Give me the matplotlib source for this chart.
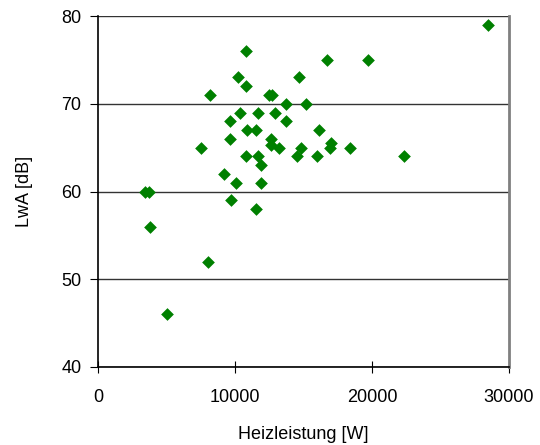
import numpy as np
import matplotlib.pyplot as plt

plt.rcParams['font.family'] = ['Liberation Sans', 'DejaVu Sans']

# Heizleistung [W] und Schallleistung LwA [dB]
heizleistung = [10800, 10250, 10800, 14700, 8150, 12500, 12700, 13700, 15200,
                10400, 11700, 12900, 9600, 13700, 10900, 11500, 9600, 12600,
                12600, 13200, 7500, 14800, 10800, 11700, 14500, 11900, 9200,
                10100, 11900, 3400, 3700, 9700, 11500, 3800, 8000, 5000,
                28500, 16700, 19700, 16100, 16000, 17000, 16900, 18400, 22300]
lwa = [76, 73, 72, 73, 71, 71, 71, 70, 70,
       69, 69, 69, 68, 68, 67, 67, 66, 66,
       65.3, 65, 65, 65, 64, 64, 64, 63, 62,
       61, 61, 60, 60, 59, 58, 56, 52, 46,
       79, 75, 75, 67, 64, 65.5, 65, 65, 64]

fig = plt.figure(figsize=(5.4, 4.45), dpi=100)
ax = fig.add_axes([0.1815, 0.1753, 0.7611, 0.7887])

ax.scatter(heizleistung, lwa, marker='D', s=42, color='#008000', zorder=3, linewidths=0)

ax.set_xlim(0, 30000)
ax.set_ylim(40, 80)
ax.set_xticks([0, 10000, 20000, 30000])
ax.set_yticks([40, 50, 60, 70, 80])
ax.yaxis.grid(True, color='#333333', linewidth=1)
ax.set_axisbelow(True)

ax.spines['top'].set_visible(False)
ax.spines['right'].set_color('#808080')
ax.spines['right'].set_linewidth(2)
ax.spines['left'].set_linewidth(1.2)
ax.spines['bottom'].set_linewidth(1.2)
ax.tick_params(axis='x', direction='inout', length=8, labelsize=13, pad=12)
ax.tick_params(axis='y', direction='out', length=6, labelsize=13, pad=6)

ax.set_xlabel('Heizleistung [W]', fontsize=13, labelpad=14)
ax.set_ylabel('LwA [dB]', fontsize=13, labelpad=20)

fig.savefig('out.png', dpi=100)
